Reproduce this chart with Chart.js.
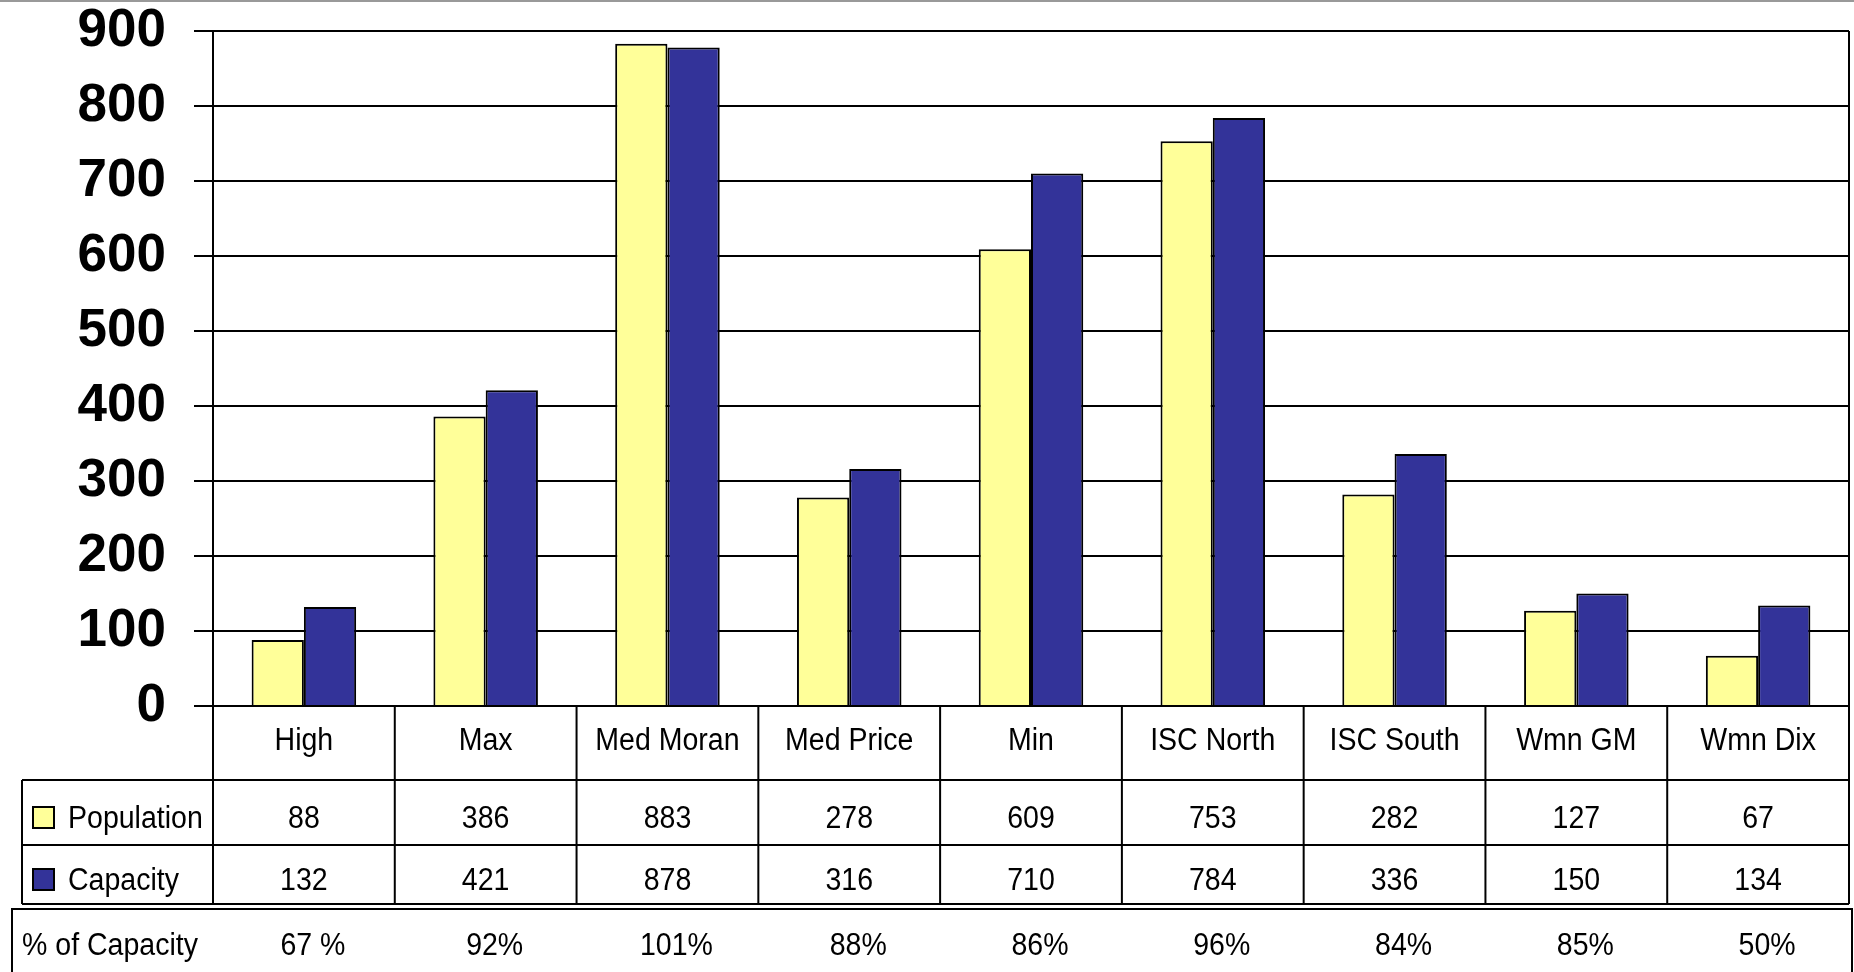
<!DOCTYPE html>
<html>
<head>
<meta charset="utf-8">
<script src="https://cdn.jsdelivr.net/npm/chart.js@4.4.1/dist/chart.umd.min.js"></script>
<style>
  body { margin: 0; background: #fff; }
  canvas { display: block; }
</style>
</head>
<body>
<canvas id="myChart" width="1854" height="972"></canvas>
<script>
const labels = ["High", "Max", "Med Moran", "Med Price", "Min", "ISC North", "ISC South", "Wmn GM", "Wmn Dix"];
const population = [88, 386, 883, 278, 609, 753, 282, 127, 67];
const capacity = [132, 421, 878, 316, 710, 784, 336, 150, 134];
const pctCapacity = ["67 %", "92%", "101%", "88%", "86%", "96%", "84%", "85%", "50%"];
const pctLabel = "% of Capacity";

const yellow = "#FFFF99";
const blue = "#333399";

const ctx = document.getElementById("myChart").getContext("2d");

Chart.defaults.font.family = "'Liberation Sans', Arial, sans-serif";
Chart.defaults.color = "#000";

// condensed text, like the narrow Arial in the original
function txt(c, s, x, y, align) {
  c.save();
  c.translate(x, y);
  c.scale(0.92, 1);
  c.textAlign = align;
  c.textBaseline = "alphabetic";
  c.fillText(s, 0, 0);
  c.restore();
}

// data table under the plot
const tablePlugin = {
  id: "dataTable",
  afterDraw(chart) {
    const c = chart.ctx;
    const area = chart.chartArea;
    const xs = chart.scales.x;
    const colW = (area.right - area.left) / labels.length;
    const b = area.bottom;
    const catBottom = b + 74;
    const popBottom = b + 139;
    const capBottom = b + 198;
    const legLeft = 22;

    c.save();
    // top grey line
    c.strokeStyle = "#999";
    c.lineWidth = 2;
    c.beginPath();
    c.moveTo(0, 1);
    c.lineTo(chart.width, 1);
    c.stroke();

    c.strokeStyle = "#000";
    c.lineWidth = 2;
    c.beginPath();
    // plot right border
    c.moveTo(area.right, area.top);
    c.lineTo(area.right, b);
    // column dividers
    for (let i = 0; i <= labels.length; i++) {
      const x = area.left + i * colW;
      c.moveTo(x, b);
      c.lineTo(x, capBottom);
    }
    // legend column
    c.moveTo(legLeft, catBottom);
    c.lineTo(legLeft, capBottom);
    [catBottom, popBottom, capBottom].forEach(y => {
      c.moveTo(legLeft, y);
      c.lineTo(area.right, y);
    });
    c.stroke();
    // % of capacity box
    c.strokeRect(12, capBottom + 5, area.right + 3 - 12, 120);

    c.fillStyle = "#000";
    c.font = "31px 'Liberation Sans', Arial, sans-serif";
    labels.forEach((l, i) => {
      const cx = xs.getPixelForValue(i);
      txt(c, l, cx, b + 44, "center");
      txt(c, String(population[i]), cx, b + 122, "center");
      txt(c, String(capacity[i]), cx, b + 184, "center");
      txt(c, pctCapacity[i], cx + 9, b + 249, "center");
    });

    // legend keys
    const ds = chart.data.datasets;
    const rowBase = [b + 122, b + 184];
    ds.forEach((d, k) => {
      c.fillStyle = d.backgroundColor;
      c.fillRect(33, rowBase[k] - 21, 21, 21);
      c.strokeStyle = "#000";
      c.lineWidth = 2;
      c.strokeRect(33, rowBase[k] - 21, 21, 21);
      c.fillStyle = "#000";
      txt(c, d.label, 68, rowBase[k], "left");
    });
    txt(c, pctLabel, 22, b + 249, "left");
    c.restore();
  }
};

const data = {
  labels,
  datasets: [
    {
      label: "Population",
      data: population,
      backgroundColor: yellow,
      borderColor: "#000",
      borderWidth: 2
    },
    {
      label: "Capacity",
      data: capacity,
      backgroundColor: blue,
      borderColor: "#000",
      borderWidth: 2
    }
  ]
};

const config = {
  type: "bar",
  data: data,
  options: {
    responsive: false,
    animation: false,
    categoryPercentage: 0.575,
    barPercentage: 1,
    layout: {
      padding: { top: 31, right: 5, bottom: 266, left: 0 }
    },
    plugins: {
      legend: { display: false },
      tooltip: { enabled: false }
    },
    scales: {
      x: {
        display: false
      },
      y: {
        min: 0,
        max: 900,
        afterFit: (scale) => {
          scale.width = 213;
          scale.paddingTop = 0;
          scale.paddingBottom = 0;
        },
        ticks: {
          stepSize: 100,
          padding: 28,
          color: "#000",
          font: { size: 53, weight: "bold" }
        },
        grid: {
          color: "#000",
          lineWidth: 2,
          tickLength: 19,
          drawTicks: true
        },
        border: {
          display: true,
          color: "#000",
          width: 2
        }
      }
    }
  },
  plugins: [tablePlugin]
};

const myChart = new Chart(ctx, config);
</script>
</body>
</html>
